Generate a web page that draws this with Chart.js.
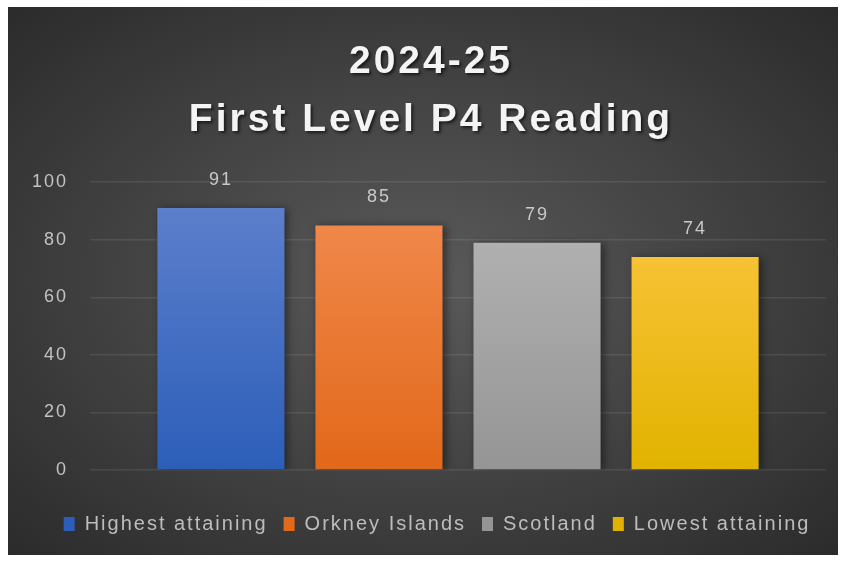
<!DOCTYPE html>
<html>
<head>
<meta charset="utf-8">
<script src="https://cdn.jsdelivr.net/npm/chart.js@4"></script>
<style>
    html, body { margin: 0; padding: 0; background: #ffffff; }
    .chart-box {
        position: absolute;
        left: 8px; top: 7px;
        width: 830px; height: 548px;
        background: radial-gradient(ellipse farthest-corner at 50% 50%, #5a5a5a 0%, #454545 45%, #2b2b2b 100%);
    }
</style>
</head>
<body>
<div class="chart-box"><canvas id="readingChart" width="830" height="548"></canvas></div>
<script>
// --- Chart data ---
const titleLines = ['2024-25', 'First Level P4 Reading'];
const seriesNames = ['Highest attaining', 'Orkney Islands', 'Scotland', 'Lowest attaining'];
const seriesValues = [91, 85, 79, 74];
const yTicks = [0, 20, 40, 60, 80, 100];

// top / bottom colours of each bar gradient
const topColors = ['#6182cd', '#f28d52', '#b7b7b7', '#ffc746'];
const bottomColors = ['#2c5eb9', '#e2681a', '#959595', '#e1b300'];

const FONT = '"Liberation Sans", Arial, sans-serif';

function barGradient(ctx, i) {
    const chart = ctx.chart;
    const area = chart.chartArea;
    if (!area) return bottomColors[i];
    const g = chart.ctx.createLinearGradient(0, area.top, 0, area.bottom);
    g.addColorStop(0, topColors[i]);
    g.addColorStop(1, bottomColors[i]);
    return g;
}

// wrap a layout box's draw so we can nudge it and tweak the text style
function wrapDraw(chart, box, dx, style) {
    if (!box || box._styled) return;
    const origDraw = box.draw.bind(box);
    box.draw = function () {
        const c = chart.ctx;
        c.save();
        c.translate(dx, 0);
        style(c);
        origDraw();
        c.restore();
    };
    box._styled = true;
}

// wider letter spacing like the original, shadow on the title
const textStyle = {
    id: 'textStyle',
    beforeUpdate(chart) {
        chart.ctx.letterSpacing = '2px';
    },
    afterLayout(chart) {
        wrapDraw(chart, chart.titleBlock, 14, c => {
            c.letterSpacing = '3px';
            c.shadowColor = 'rgba(0,0,0,0.6)';
            c.shadowBlur = 3;
            c.shadowOffsetX = 2;
            c.shadowOffsetY = 2;
        });
        wrapDraw(chart, chart.legend, 20, () => {});
    }
};

// soft shadow behind bars + value labels above them
const barExtras = {
    id: 'barExtras',
    beforeDatasetsDraw(chart) {
        const c = chart.ctx;
        c.save();
        c.shadowColor = 'rgba(0,0,0,0.45)';
        c.shadowBlur = 8;
        c.shadowOffsetX = 3;
        c.shadowOffsetY = 1;
    },
    afterDatasetsDraw(chart) {
        const c = chart.ctx;
        c.restore();
        c.save();
        c.fillStyle = '#c9c9c9';
        c.font = '18px ' + FONT;
        c.textAlign = 'center';
        c.textBaseline = 'middle';
        chart.data.datasets.forEach((ds, i) => {
            const bar = chart.getDatasetMeta(i).data[0];
            if (bar) c.fillText(ds.data[0], bar.x, bar.y - 28);
        });
        c.restore();
    }
};

const ctx = document.getElementById('readingChart').getContext('2d');
new Chart(ctx, {
    type: 'bar',
    data: {
        labels: [''],
        datasets: seriesNames.map((name, i) => ({
            label: name,
            data: [seriesValues[i]],
            backgroundColor: c => barGradient(c, i),
            borderWidth: 0,
            categoryPercentage: 0.859,
            barPercentage: 0.804
        }))
    },
    options: {
        responsive: false,
        animation: false,
        layout: { padding: { left: 0, right: 12, top: 0, bottom: 11 } },
        scales: {
            x: {
                ticks: { display: false },
                grid: { display: false },
                border: { display: false },
                afterFit: s => { s.height = 28; }
            },
            y: {
                min: 0,
                max: 100,
                afterBuildTicks: s => { s.ticks = yTicks.map(v => ({ value: v })); },
                afterFit: s => { s.width = 82; },
                ticks: {
                    color: '#c2c2c2',
                    padding: 22,
                    font: { size: 18, family: FONT }
                },
                grid: { color: 'rgba(255,255,255,0.09)', lineWidth: 1.5, drawTicks: false },
                border: { display: false }
            }
        },
        plugins: {
            title: {
                display: true,
                text: titleLines,
                color: '#f4f4f4',
                font: { size: 39, weight: 'bold', family: FONT, lineHeight: 1.49 },
                padding: { top: 26, bottom: 33 }
            },
            legend: {
                position: 'bottom',
                labels: {
                    color: '#bdbdbd',
                    boxWidth: 11,
                    boxHeight: 14,
                    padding: 16,
                    font: { size: 20, family: FONT },
                    generateLabels: chart => chart.data.datasets.map((ds, i) => ({
                        text: ds.label,
                        fillStyle: bottomColors[i],
                        strokeStyle: bottomColors[i],
                        lineWidth: 0,
                        fontColor: '#bdbdbd',
                        datasetIndex: i
                    }))
                }
            },
            tooltip: { enabled: false }
        }
    },
    plugins: [textStyle, barExtras]
});
</script>
</body>
</html>
